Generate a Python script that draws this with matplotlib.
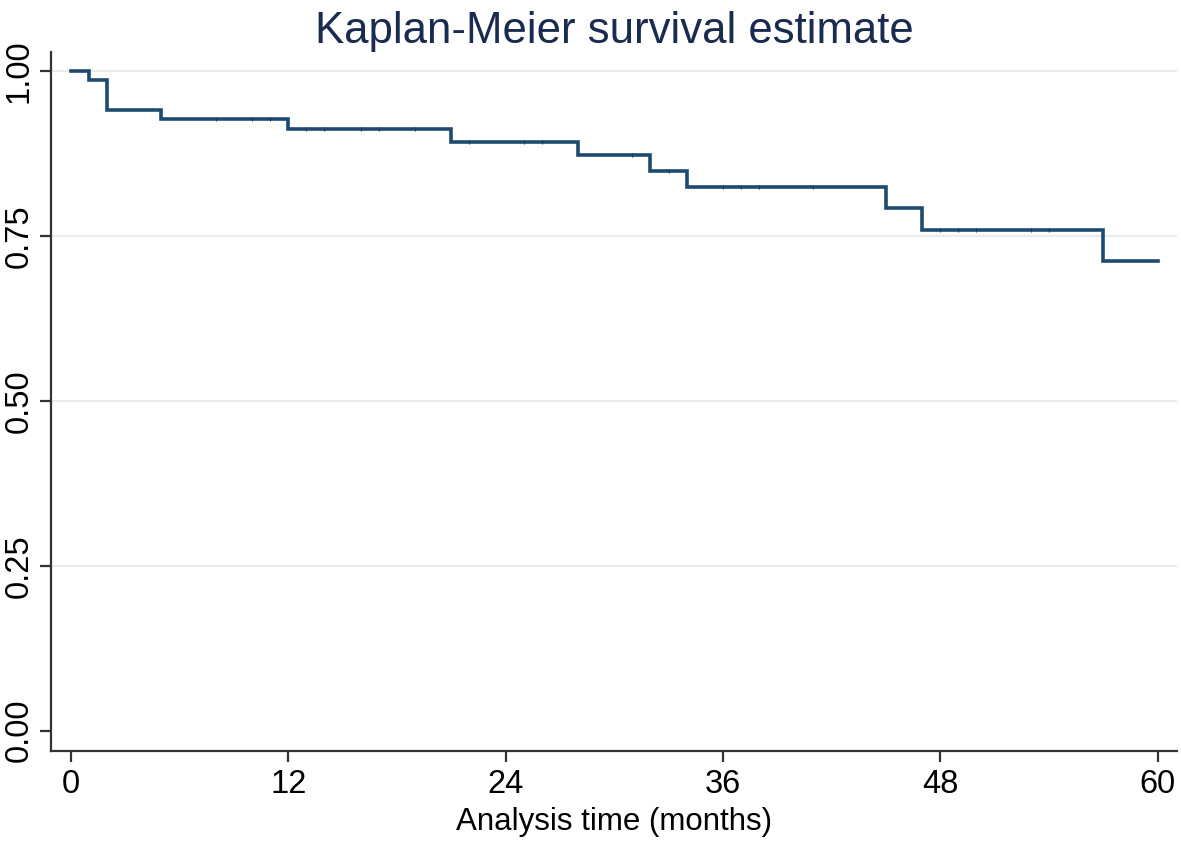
import numpy as np
import matplotlib
matplotlib.use('Agg')
import matplotlib.pyplot as plt

plt.rcParams['font.family'] = ['Liberation Sans', 'DejaVu Sans']

# Kaplan-Meier step estimate (event times in months, survival after each)
event_times = [0, 1, 2, 5, 12, 21, 28, 32, 34, 45, 47, 57, 60]
survival = [1.0, 0.986, 0.942, 0.928, 0.9125, 0.893, 0.873, 0.849,
            0.825, 0.793, 0.759, 0.7125, 0.7125]

# censored observations (months)
censor_times = [8, 10, 11, 13, 14, 16, 17, 19, 22, 25, 26, 31, 33,
                36, 37, 38, 41, 48, 49, 50, 53, 54]

x_ticks = [0, 12, 24, 36, 48, 60]
y_ticks = [0.0, 0.25, 0.5, 0.75, 1.0]
y_ticklabels = ['0.00', '0.25', '0.50', '0.75', '1.00']

title = 'Kaplan-Meier survival estimate'
xlabel = 'Analysis time (months)'

line_color = '#1f4a70'
title_color = '#1a2b50'

fig = plt.figure(figsize=(11.81, 8.41), dpi=100)
ax = fig.add_axes([0.0432, 0.107, 0.9534, 0.831])

# light horizontal grid
for yv in y_ticks[1:]:
    ax.axhline(yv, color='#e6eaee', lw=1.3, zorder=0)

ax.step(event_times, survival, where='post', color=line_color, lw=2.6,
        solid_joinstyle='miter', zorder=3)

# censor marks sit on the curve
idx = np.searchsorted(event_times, censor_times, side='right') - 1
censor_surv = np.array(survival)[idx]
ax.plot(censor_times, censor_surv, ls='none', marker='|', ms=3.5,
        mew=0.8, color='#233a52', zorder=4)

ax.set_xlim(-1.1, 61.07)
ax.set_ylim(-0.031, 1.029)

ax.set_xticks(x_ticks)
ax.set_yticks(y_ticks)
ax.set_yticklabels(y_ticklabels, rotation=90, va='center')

for side in ('top', 'right'):
    ax.spines[side].set_visible(False)
for side in ('left', 'bottom'):
    ax.spines[side].set_color('#333333')
    ax.spines[side].set_linewidth(1.6)

ax.tick_params(axis='both', direction='out', length=8, width=1.6,
               color='#333333', labelsize=23.5, labelcolor='black')
ax.tick_params(axis='x', pad=5)
ax.tick_params(axis='y', pad=4)

ax.set_title(title, fontsize=31.5, color=title_color, pad=6)
ax.set_xlabel(xlabel, fontsize=22.5, labelpad=5)

fig.savefig('out.png', dpi=100)
